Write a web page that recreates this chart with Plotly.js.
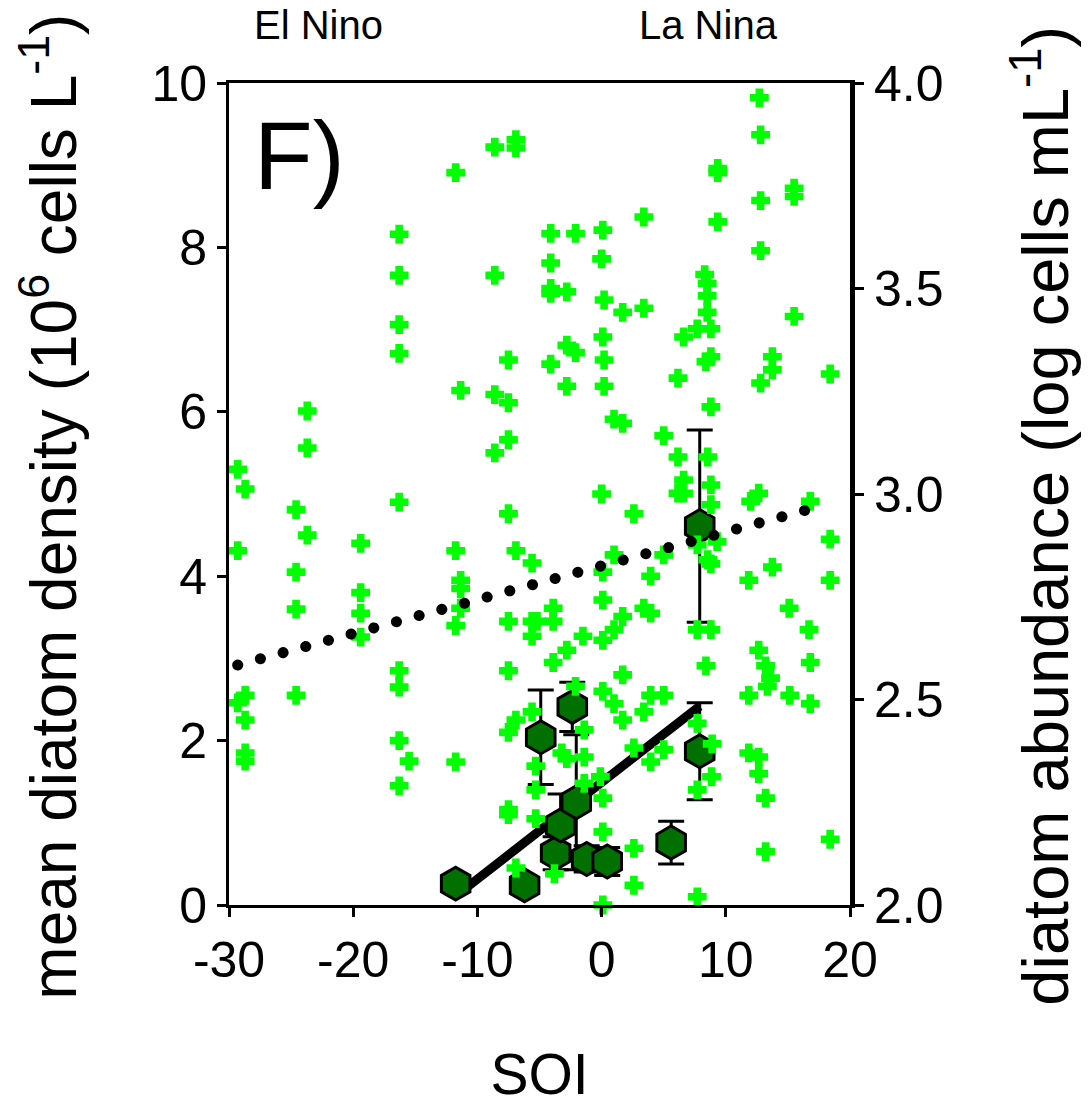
<!DOCTYPE html>
<html>
<head>
<meta charset="utf-8">
<script src="https://cdn.plot.ly/plotly-3.0.1.min.js"></script>
<style>
  html, body { margin: 0; padding: 0; background: #ffffff; }
  #chart { width: 1089px; height: 1112px; }
  path.js-line[style*="23.4px"] { stroke-linecap: round; }
</style>
</head>
<body>
<div id="chart"></div>
<script>
// ---- individual samples: SOI vs diatom abundance (log cells mL-1), right axis ----
var sampleSOI = [
  -29.3, -28.7, -29.3, -29.3, -28.7, -28.7, -28.7, -28.7,
  -24.6, -24.6, -24.6, -24.6, -23.7, -23.7, -23.7,
  -19.4, -19.4, -19.4, -19.4,
  -16.3, -16.3, -16.3, -16.3, -16.3, -16.3, -16.3, -16.3, -15.5, -16.3,
  -11.75, -11.35, -11.75, -11.35, -11.35, -11.35, -11.75, -11.75,
  -8.6, -8.6, -8.6, -8.6,
  -6.9, -6.9, -7.5, -7.5, -7.5, -7.5, -6.9, -7.5, -7.5, -6.9, -7.5, -7.5, -7.5, -6.9,
  -5.6, -5.6, -5.2, -5.6, -5.6, -5.3, -5.3, -5.3,
  -4.1, -4.1, -4.1, -4.1, -4.1, -3.9, -3.9, -3.9, -3.8, -3.2,
  -2.1, -2.8, -2.8, -2.1, -2.8, -2.8, -2.8, -2.1, -1.5, -1.4, -1.4, -1.4,
  0.1, 0.0, 0.2, 0.1, 0.2, 0.2, 0.0, 0.1, 0.1, 0.1, 0.1, -0.1, 0.1, 0.1, 0.1,
  1.0, 1.7, 1.7, 1.0, 1.7, 1.0, 1.7, 1.0, 1.7,
  2.6, 2.6, 2.6, 2.6,
  3.4, 3.4, 3.95, 3.4, 3.95, 3.95, 3.4, 3.95,
  5.0, 5.0, 5.0, 5.0,
  6.6, 6.15, 6.15, 6.6, 6.15, 6.6,
  8.3, 8.5, 8.5, 8.5, 7.7, 8.8, 8.8, 8.4, 8.8, 8.55, 8.8, 8.8, 7.7, 8.55, 8.8,
  7.7, 8.8, 8.4, 7.7, 8.9, 8.85, 7.7, 7.7, 9.3,
  9.35, 9.35, 9.35,
  12.7, 12.8, 12.8, 12.8, 13.75, 13.75, 12.8, 12.0, 12.65, 13.75, 11.85, 12.65,
  13.2, 13.6, 13.35, 11.85, 11.85, 12.65, 12.65, 13.2, 13.2,
  15.5, 15.5, 15.5, 16.8, 15.1, 16.7, 16.8, 15.15, 16.8,
  18.4, 18.4, 18.4, 18.4
];
var sampleLogCells = [
  3.060, 3.012, 2.862, 2.492, 2.510, 2.450, 2.370, 2.350,
  2.962, 2.810, 2.720, 2.510, 3.202, 3.112, 2.900,
  2.880, 2.760, 2.710, 2.652,
  3.632, 3.532, 3.412, 3.342, 2.980, 2.570, 2.530, 2.400, 2.350, 2.290,
  3.782, 3.252, 2.862, 2.790, 2.770, 2.722, 2.680, 2.348,
  3.844, 3.532, 3.242, 3.100,
  3.862, 3.842, 3.326, 3.222, 3.132, 2.952, 2.862, 2.690, 2.570, 2.450, 2.420, 2.232, 2.220, 2.090,
  2.832, 2.690, 2.690, 2.654, 2.470, 2.338, 2.280, 2.210,
  3.634, 3.562, 3.500, 3.488, 3.316, 2.722, 2.690, 2.590, 2.076, 2.370,
  3.634, 3.492, 3.362, 3.344, 3.262, 2.620, 2.356, 2.532, 2.654, 2.426, 2.360, 2.296,
  3.642, 3.572, 3.472, 3.382, 3.326, 3.262, 3.000, 2.810, 2.742, 2.644, 2.520, 2.312, 2.260, 2.178, 2.000,
  3.182, 3.172, 3.442, 2.852, 2.702, 2.670, 2.560, 2.490, 2.450,
  2.952, 2.382, 2.138, 2.048,
  3.674, 3.452, 2.800, 2.722, 2.710, 2.510, 2.470, 2.348,
  3.142, 2.852, 2.510, 2.378,
  3.382, 3.282, 3.090, 3.034, 3.002, 3.002,
  3.534, 3.512, 3.482, 3.442, 3.402, 3.402, 3.334, 3.322, 3.212, 3.090, 3.022, 2.974, 2.876, 2.840, 2.830,
  2.670, 2.670, 2.582, 2.442, 2.392, 2.312, 2.280, 2.020, 2.884,
  3.792, 3.782, 3.662,
  3.964, 3.874, 3.714, 3.592, 3.334, 3.302, 3.270, 2.982, 3.002, 2.822, 2.790, 2.620,
  2.582, 2.552, 2.532, 2.510, 2.370, 2.360, 2.320, 2.260, 2.130,
  3.744, 3.724, 3.432, 2.982, 2.722, 2.670, 2.590, 2.510, 2.490,
  3.292, 2.890, 2.790, 2.160
];

// ---- means: SOI vs mean diatom density (10^6 cells L-1), left axis ----
var meanSOI     = [-11.75, -6.2, -4.9, -3.7, -3.3, -2.36, -2.04, -1.2, 0.45, 5.6, 7.9, 7.9];
var meanDensity = [0.26, 0.24, 2.04, 0.63, 0.97, 2.41, 1.25, 0.56, 0.53, 0.76, 1.87, 4.61];
var meanError   = [0, 0, 0.575, 0.20, 0.38, 0.30, 0.82, 0.16, 0.17, 0.26, 0.59, 1.17];

// ---- regression lines ----
var sampleFitSOI = [-29.3, 17.1];
var sampleFitLog = [2.584, 2.966];
var meanFitSOI = [-11.75, 7.9];
var meanFitDensity = [0.11, 2.42];

var xTicks = [-30, -20, -10, 0, 10, 20];
var yTicks = [0, 2, 4, 6, 8, 10];
var y2Ticks = [2.0, 2.5, 3.0, 3.5, 4.0];

var leftTitle = 'mean diatom density (10<sup>6</sup> cells L<sup>-1</sup>)';
var rightTitle = 'diatom abundance (log cells mL<sup>-1</sup>)';

var FONT = 'Liberation Sans, Arial, sans-serif';

var traces = [
  {
    x: sampleSOI, y: sampleLogCells, yaxis: 'y2', type: 'scatter', mode: 'markers',
    marker: {symbol: 'cross', size: 14, color: '#00ff00', line: {width: 2, color: '#00ff00'}},
    cliponaxis: false, hoverinfo: 'skip', showlegend: false
  },
  {
    x: sampleFitSOI, y: sampleFitLog, yaxis: 'y2', type: 'scatter', mode: 'lines',
    line: {color: '#000000', width: 11, dash: '0.1px,23.4px'},
    hoverinfo: 'skip', showlegend: false
  },
  {
    x: meanFitSOI, y: meanFitDensity, type: 'scatter', mode: 'lines',
    line: {color: '#000000', width: 9},
    hoverinfo: 'skip', showlegend: false
  },
  {
    x: meanSOI, y: meanDensity, type: 'scatter', mode: 'markers',
    marker: {symbol: 'hexagon', size: 33, color: '#007000', line: {color: '#000000', width: 3}},
    error_y: {type: 'data', array: meanError, visible: true, color: '#000000', thickness: 3, width: 13},
    cliponaxis: false, showlegend: false
  }
];

var layout = {
  width: 1089, height: 1112,
  margin: {l: 229, r: 239, t: 83, b: 207, pad: 0},
  paper_bgcolor: '#ffffff', plot_bgcolor: '#ffffff',
  font: {family: FONT, color: '#000000', size: 50},
  showlegend: false,
  xaxis: {
    range: [-30, 20], tickvals: xTicks, ticktext: xTicks.map(String),
    showgrid: false, zeroline: false, showline: true, linecolor: '#000', linewidth: 3, mirror: true,
    ticks: 'outside', ticklen: 9, tickwidth: 3, tickcolor: '#000',
    tickfont: {family: FONT, size: 50, color: '#000'},
    title: {text: 'SOI', font: {family: FONT, size: 57, color: '#000'}, standoff: 68},
    automargin: false
  },
  yaxis: {
    range: [0, 10], tickvals: yTicks, ticktext: yTicks.map(String),
    showgrid: false, zeroline: false, showline: true, linecolor: '#000', linewidth: 3,
    ticks: 'outside', ticklen: 9, tickwidth: 3, tickcolor: '#000',
    tickfont: {family: FONT, size: 50, color: '#000'},
    automargin: false
  },
  yaxis2: {
    overlaying: 'y', side: 'right', anchor: 'x',
    range: [2, 4], tickvals: y2Ticks, ticktext: y2Ticks.map(function (v) { return v.toFixed(1); }),
    showgrid: false, zeroline: false, showline: true, linecolor: '#000', linewidth: 5,
    ticks: 'outside', ticklen: 9, tickwidth: 3, tickcolor: '#000',
    tickfont: {family: FONT, size: 50, color: '#000'},
    automargin: false
  },
  annotations: [
    {text: leftTitle, xref: 'paper', yref: 'paper', x: -0.289, y: 0.484, xanchor: 'center', yanchor: 'middle',
     textangle: -90, showarrow: false, font: {family: FONT, size: 64, color: '#000'}},
    {text: rightTitle, xref: 'paper', yref: 'paper', x: 1.308, y: 0.474, xanchor: 'center', yanchor: 'middle',
     textangle: -90, showarrow: false, font: {family: FONT, size: 65, color: '#000'}},
    {text: 'F)', xref: 'paper', yref: 'paper', x: 0.114, y: 0.912, xanchor: 'center', yanchor: 'middle',
     showarrow: false, font: {family: FONT, size: 96, color: '#000'}},
    {text: 'El Nino', xref: 'x', yref: 'paper', x: -22.8, y: 1.071, xanchor: 'center', yanchor: 'middle',
     showarrow: false, font: {family: FONT, size: 40, color: '#000'}},
    {text: 'La Nina', xref: 'x', yref: 'paper', x: 8.6, y: 1.071, xanchor: 'center', yanchor: 'middle',
     showarrow: false, font: {family: FONT, size: 40, color: '#000'}}
  ]
};

Plotly.newPlot('chart', traces, layout, {displayModeBar: false, staticPlot: true});
</script>
</body>
</html>
